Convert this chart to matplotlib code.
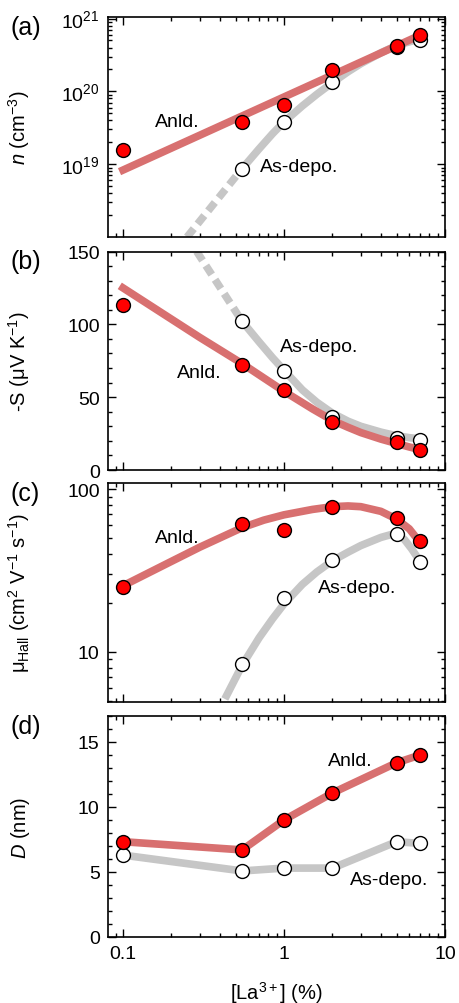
import numpy as np
import matplotlib
matplotlib.use("Agg")
import matplotlib.pyplot as plt
from matplotlib.ticker import LogLocator, NullFormatter, MultipleLocator, FixedLocator

# ============================================================
# Style
# ============================================================

plt.rcParams.update({
    "font.family": "Liberation Sans",
    "font.size": 14,
    "mathtext.fontset": "custom",
    "mathtext.rm": "Liberation Sans",
    "mathtext.it": "Liberation Sans:italic",
    "mathtext.bf": "Liberation Sans:bold",
    "axes.linewidth": 1.2,
    "lines.solid_joinstyle": "round",
})

RED_LINE = "#d87070"
GRAY_LINE = "#c6c6c6"

# ============================================================
# Data
# ============================================================

la = [0.1, 0.55, 1, 2, 5, 7]
la_dep = [0.55, 1, 2, 5, 7]

# (a) carrier density
n_anld = [1.55e19, 3.85e19, 6.4e19, 1.95e20, 4.2e20, 5.9e20]
n_dep = [8.7e18, 3.8e19, 1.33e20, 4.1e20, 5.0e20]
n_fit_anld_x = [0.1, 7]
n_fit_anld_y = [8.3e18, 5.9e20]
n_fit_dep_dash_x = [0.25, 0.55]
n_fit_dep_dash_y = [1.0e18, 8.7e18]
n_fit_dep_x = [0.55, 0.7, 0.85, 1, 1.3, 1.6, 2, 2.5, 3, 4, 5, 6, 7]
n_fit_dep_logy = [18.94, 19.21, 19.42, 19.58, 19.80, 19.96, 20.12, 20.27,
                  20.38, 20.53, 20.63, 20.68, 20.72]

# (b) Seebeck coefficient
s_anld = [113, 72, 55, 33, 19.5, 13.7]
s_dep = [102, 68, 36.5, 22, 20.5]
s_fit_anld_x = [0.1, 0.3, 0.55, 1, 1.5, 2, 2.5, 3, 4, 5, 6, 7]
s_fit_anld_y = [125, 91, 73, 54, 42, 34, 29.3, 25.7, 21.2, 18.2, 15.8, 14]
s_fit_dep_dash_x = [0.287, 0.55]
s_fit_dep_dash_y = [150, 102]
s_fit_dep_x = [0.55, 0.7, 0.85, 1, 1.3, 1.6, 2, 2.5, 3, 4, 5, 6, 7]
s_fit_dep_y = [102, 88, 77, 68.5, 55, 46.5, 39, 33.5, 30, 26, 23.5, 22.2, 21.4]

# (c) Hall mobility
mu_anld = [25.1, 61, 56, 77.8, 66, 47.7]
mu_dep = [8.4, 21.3, 36.8, 53, 35.8]
mu_fit_anld_x = [0.1, 0.2, 0.3, 0.55, 0.75, 1, 1.5, 2, 2.5, 3, 4, 5, 6, 7]
mu_fit_anld_y = [25.5, 36, 44, 58, 64.5, 69.5, 75, 78, 78.8, 78, 73, 65.5, 57, 47]
mu_fit_dep_x = [0.44, 0.55, 0.7, 0.85, 1, 1.3, 1.6, 2, 2.5, 3, 4, 4.6, 5,
                5.6, 6.2, 7]
mu_fit_dep_y = [5.4, 8.3, 12.2, 16.0, 19.7, 26, 31, 36.3, 41, 45, 50.5, 52.5,
                52.8, 49, 43, 36]

# (d) crystallite size
d_anld = [7.33, 6.7, 9.0, 11.08, 13.4, 14.0]
d_dep = [6.3, 5.08, 5.3, 5.3, 7.33, 7.2]

# ============================================================
# Figure & axes
# ============================================================

fig = plt.figure(figsize=(4.6, 10.04), dpi=100)
L, W = 108 / 460, 337 / 460
H = 1004
boxes = [(18, 238), (252.5, 471), (484, 703), (717, 938)]
axes = [fig.add_axes([L, 1 - b / H, W, (b - t) / H]) for t, b in boxes]
ax_a, ax_b, ax_c, ax_d = axes

mk = dict(marker="o", ms=10, mec="black", mew=1.0, ls="none", zorder=5)
lw = 5.5

for ax in axes:
    ax.set_xscale("log")
    ax.set_xlim(0.0807, 10)
    ax.xaxis.set_major_locator(FixedLocator([0.1, 1, 10]))
    ax.xaxis.set_minor_locator(LogLocator(base=10, subs=np.arange(2, 10)))
    ax.xaxis.set_minor_formatter(NullFormatter())
    ax.tick_params(which="both", direction="in", top=True, right=True,
                   width=1.0, labelsize=14, pad=6)
    ax.tick_params(which="major", length=5.5)
    ax.tick_params(which="minor", length=3)
    if ax is not ax_d:
        ax.tick_params(labelbottom=False)

ax_d.set_xticklabels(["0.1", "1", "10"])

# ---------------- (a)
ax_a.set_yscale("log")
ax_a.set_ylim(1e18, 1.05e21)
ax_a.yaxis.set_major_locator(FixedLocator([1e19, 1e20, 1e21]))
ax_a.yaxis.set_minor_locator(LogLocator(base=10, subs=np.arange(2, 10)))
ax_a.yaxis.set_minor_formatter(NullFormatter())
ax_a.plot(n_fit_dep_dash_x, n_fit_dep_dash_y, color=GRAY_LINE, lw=lw,
          dashes=(1.4, 0.8), solid_capstyle="butt", zorder=2)
ax_a.plot(n_fit_dep_x, 10 ** np.array(n_fit_dep_logy), color=GRAY_LINE, lw=lw,
          zorder=2)
ax_a.plot(n_fit_anld_x, n_fit_anld_y, color=RED_LINE, lw=lw, zorder=3)
ax_a.plot(la_dep, n_dep, mfc="white", **mk)
ax_a.plot(la, n_anld, mfc="#ff0000", **mk)
ax_a.text(0.158, 3.85e19, "Anld.", ha="left", va="center", fontsize=14)
ax_a.text(0.71, 9.4e18, "As-depo.", ha="left", va="center", fontsize=14)
ax_a.set_ylabel("$n$ (cm$^{-3}$)", fontsize=14.5)

# ---------------- (b)
ax_b.set_ylim(0, 150)
ax_b.yaxis.set_major_locator(MultipleLocator(50))
ax_b.yaxis.set_minor_locator(MultipleLocator(10))
ax_b.plot(s_fit_dep_dash_x, s_fit_dep_dash_y, color=GRAY_LINE, lw=lw,
          dashes=(1.4, 0.8), solid_capstyle="butt", zorder=2)
ax_b.plot(s_fit_dep_x, s_fit_dep_y, color=GRAY_LINE, lw=lw, zorder=2)
ax_b.plot(s_fit_anld_x, s_fit_anld_y, color=RED_LINE, lw=lw, zorder=3)
ax_b.plot(la_dep, s_dep, mfc="white", **mk)
ax_b.plot(la, s_anld, mfc="#ff0000", **mk)
ax_b.text(0.216, 67, "Anld.", ha="left", va="center", fontsize=14)
ax_b.text(0.944, 85, "As-depo.", ha="left", va="center", fontsize=14)
ax_b.set_ylabel("-S (μV K$^{-1}$)", fontsize=14.5)

# ---------------- (c)
ax_c.set_yscale("log")
ax_c.set_ylim(4.93, 109)
ax_c.yaxis.set_major_locator(FixedLocator([10, 100]))
ax_c.set_yticklabels(["10", "100"])
ax_c.yaxis.set_minor_locator(LogLocator(base=10, subs=np.arange(2, 10)))
ax_c.yaxis.set_minor_formatter(NullFormatter())
ax_c.plot(mu_fit_dep_x, mu_fit_dep_y, color=GRAY_LINE, lw=lw, zorder=2)
ax_c.plot(mu_fit_anld_x, mu_fit_anld_y, color=RED_LINE, lw=lw, zorder=3)
ax_c.plot(la_dep, mu_dep, mfc="white", **mk)
ax_c.plot(la, mu_anld, mfc="#ff0000", **mk)
ax_c.text(0.158, 50.6, "Anld.", ha="left", va="center", fontsize=14)
ax_c.text(1.63, 24.9, "As-depo.", ha="left", va="center", fontsize=14)
ax_c.set_ylabel("μ$_{\\mathrm{Hall}}$ (cm$^2$ V$^{-1}$ s$^{-1}$)", fontsize=14.5)

# ---------------- (d)
ax_d.set_ylim(0, 17)
ax_d.yaxis.set_major_locator(MultipleLocator(5))
ax_d.yaxis.set_minor_locator(MultipleLocator(1))
ax_d.plot(la, d_dep, color=GRAY_LINE, lw=lw, zorder=2)
ax_d.plot(la, d_anld, color=RED_LINE, lw=lw, zorder=3)
ax_d.plot(la, d_dep, mfc="white", **mk)
ax_d.plot(la, d_anld, mfc="#ff0000", **mk)
ax_d.text(1.87, 13.56, "Anld.", ha="left", va="center", fontsize=14)
ax_d.text(2.57, 4.46, "As-depo.", ha="left", va="center", fontsize=14)
ax_d.set_ylabel("$D$ (nm)", fontsize=14.5)
ax_d.set_xlabel("[La$^{3+}$] (%)", fontsize=14.5, labelpad=12)

for ax in axes:
    ax.yaxis.set_label_coords(-0.225, 0.5)

for ax, lab in zip(axes, ["(a)", "(b)", "(c)", "(d)"]):
    ax.text(-0.245, 1.01, lab, transform=ax.transAxes, ha="center", va="top",
            fontsize=18)

fig.savefig("out.png", dpi=100)
